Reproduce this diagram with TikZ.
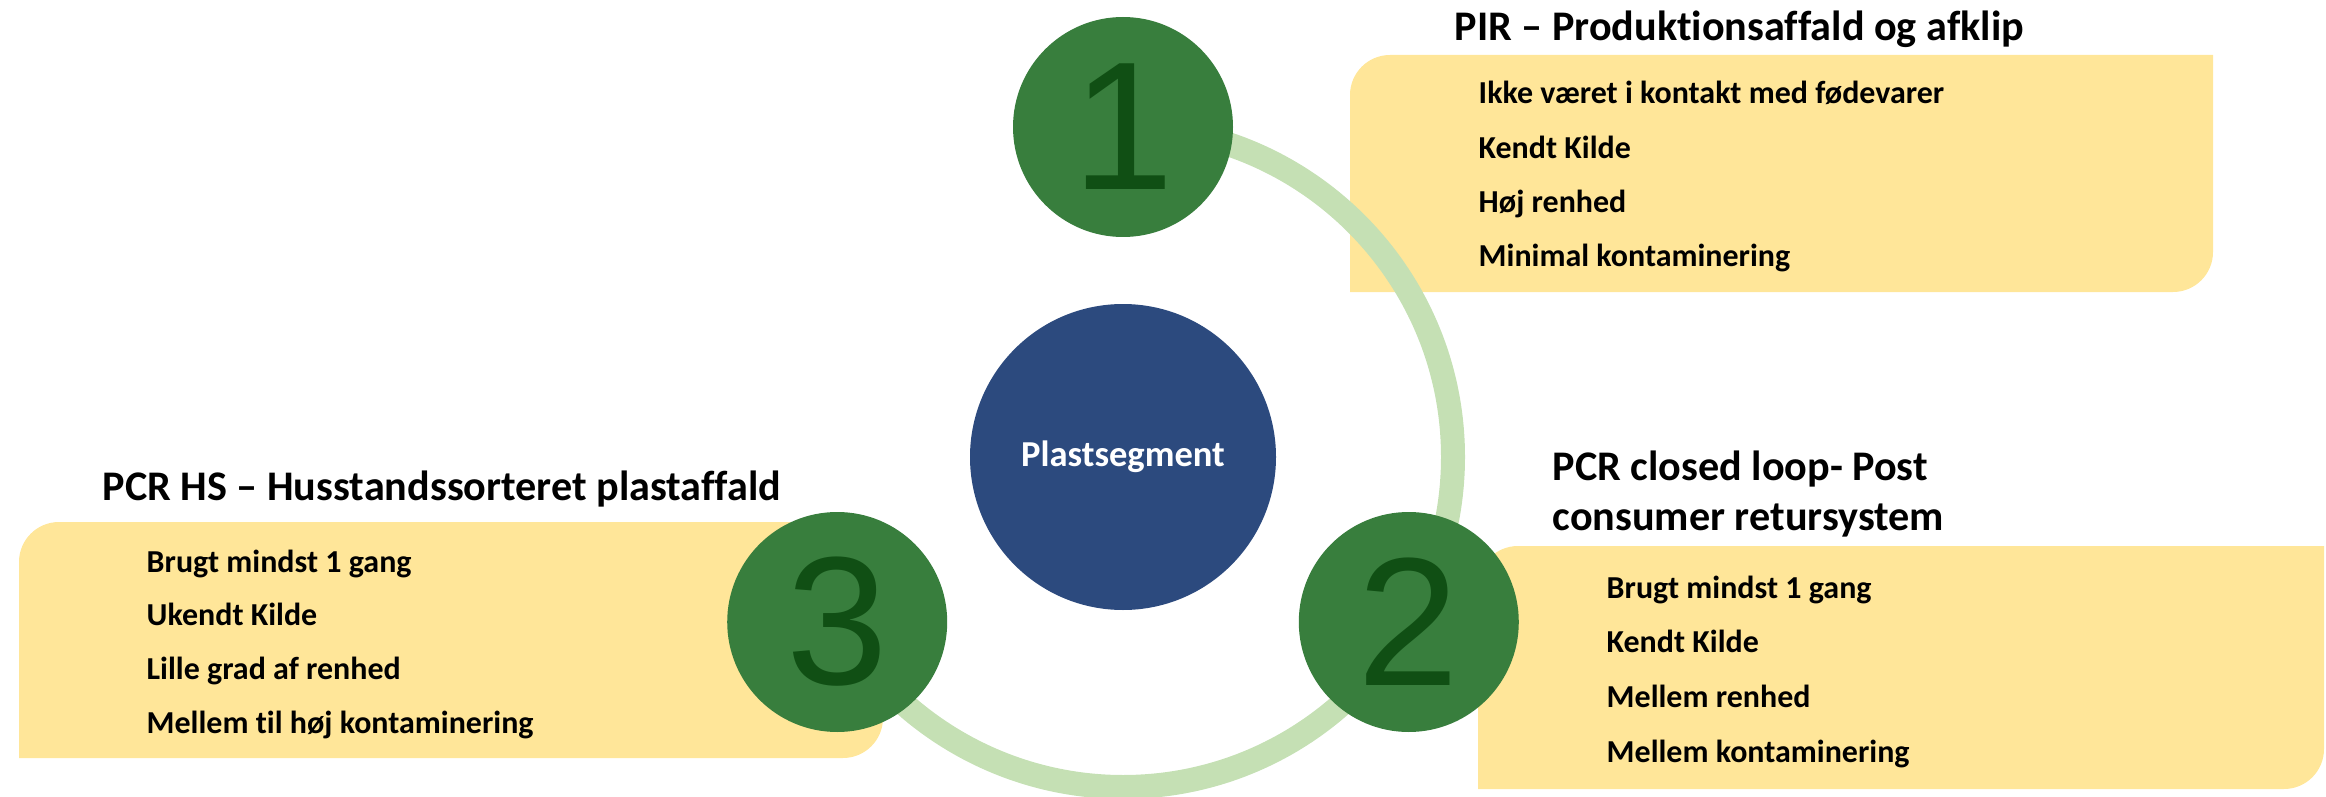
\documentclass[tikz,border=0pt]{standalone}
\usepackage{fontspec}
\setmainfont{Carlito}[Ligatures=NoCommon]
\newfontfamily\digitfont{Liberation Sans}
\definecolor{boxyellow}{HTML}{FFE699}
\definecolor{numgreen}{HTML}{387E3D}
\definecolor{numdark}{HTML}{104F14}
\definecolor{ringgreen}{HTML}{C5E0B4}
\definecolor{segblue}{HTML}{2C4A7E}
% yellow box, rounded top left and bottom right
\newcommand{\leafbox}[4]{%
	\fill[boxyellow] (#1,#2) -- (#1,#4-0.4) arc[start angle=180,end angle=90,radius=0.4] -- (#3,#4) -- (#3,#2+0.4) arc[start angle=0,end angle=-90,radius=0.4] -- cycle;}

\begin{document}
\begin{tikzpicture}[num/.style={circle,fill=numgreen,minimum size=2.2cm,inner sep=0pt,text=numdark,font=\digitfont\fontsize{52}{52}\selectfont}, title/.style={anchor=base west,inner sep=0pt,font=\bfseries\fontsize{12}{14}\selectfont}, item/.style={anchor=base west,inner sep=0pt,font=\bfseries\fontsize{9.1}{11}\selectfont}]
			\useasboundingbox (0,0) rectangle (23.26,7.96);
			% boxes
			\leafbox{13.50}{5.04}{22.13}{7.41}
			\leafbox{14.78}{0.07}{23.24}{2.50}
			\leafbox{0.19}{0.38}{8.83}{2.74}
			% centre and ring
			\node[circle,fill=segblue,minimum size=3.06cm,text=white,font=\bfseries\fontsize{10.4}{12}\selectfont] (c) at (11.23,3.39) {Plastsegment};
			\draw[ringgreen,line width=0.24cm] (c) ++(90:3.3) arc[start angle=90,end angle=-150,radius=3.3];
			% numbered circles on the ring
			\foreach \a [count=\p] in {90,-30,210} {
				\path (c.center) ++(\a:3.3) node[num] (n\p) {\p};
			};
			% 1
			\node[title] (t1) at (14.54,7.55) {PIR – Produktionsaffald og afklip};
			\foreach \txt [count=\i] in {Ikke været i kontakt med fødevarer,Kendt Kilde,Høj renhed,Minimal kontaminering} {
				\node[item] (a\i) at (14.78,{6.92-0.543*(\i-1)}) {\txt};
			};
			% 2
			\node[title] (t2) at (15.52,3.16) {PCR closed loop- Post};
			\node[title] (t2b) at (15.52,2.66) {consumer retursystem};
			\foreach \txt [count=\i] in {Brugt mindst 1 gang,Kendt Kilde,Mellem renhed,Mellem kontaminering} {
				\node[item] (b\i) at (16.06,{1.98-0.547*(\i-1)}) {\txt};
			};
			% 3
			\node[title] (t3) at (1.02,2.96) {PCR HS – Husstandssorteret plastaffald};
			\foreach \txt [count=\i] in {Brugt mindst 1 gang,Ukendt Kilde,Lille grad af renhed,Mellem til høj kontaminering} {
				\node[item] (d\i) at (1.46,{2.24-0.537*(\i-1)}) {\txt};
			};
		\end{tikzpicture}
\end{document}
